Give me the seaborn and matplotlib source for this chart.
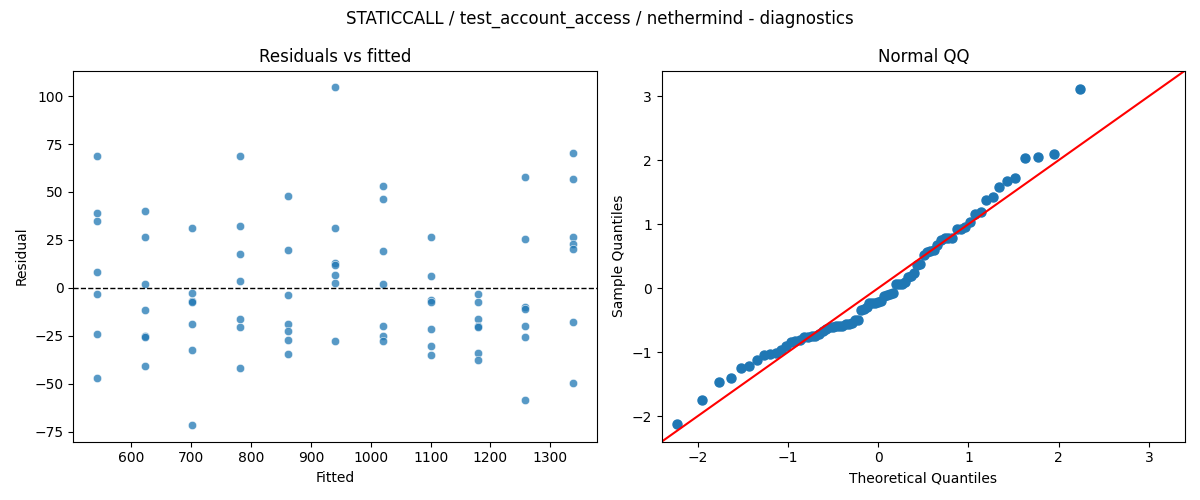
import matplotlib
matplotlib.use("Agg")
import matplotlib.pyplot as plt
import seaborn as sns
import numpy as np
from statistics import NormalDist

fitted_levels = [543, 623, 702, 782, 861, 941, 1020, 1100, 1180, 1258, 1338]
residual_groups = [
    [68.5, 39, 35, 8, -3, -24, -47],
    [40, 26.5, 2, -11.5, -25, -25.5, -41],
    [31, -2.5, -7, -7.5, -19, -32.5, -71.5],
    [69, 32, 17.5, 3.5, -16.5, -20.5, -42],
    [48, 19.5, -4, -19, -22.5, -27, -34.5],
    [104.5, 31, 13, 12, 6.5, 2.5, -27.5],
    [53, 46.5, 19, 2, -20, -25, -28],
    [26.5, 6, -6.5, -7.5, -21.5, -30.5, -35],
    [-3.5, -7.5, -16.5, -20, -20.5, -34, -37.5],
    [58, 25.5, -10, -11, -20, -25.5, -58.5],
    [70.5, 56.5, 26.5, 23, 20, -18, -49.5],
]

fitted = np.array([f for f, g in zip(fitted_levels, residual_groups) for _ in g])
resid = np.array([r for g in residual_groups for r in g])

# standardized residuals for the QQ plot
n = len(resid)
sample_q = np.sort((resid - resid.mean()) / resid.std(ddof=1))
theo_q = np.array([NormalDist().inv_cdf(i / (n + 1)) for i in range(1, n + 1)])

fig, axes = plt.subplots(1, 2, figsize=(12, 5))
fig.suptitle("STATICCALL / test_account_access / nethermind - diagnostics")

sns.scatterplot(x=fitted, y=resid, ax=axes[0], alpha=0.75)
axes[0].axhline(0, color="black", linestyle="--", linewidth=1)
axes[0].set_title("Residuals vs fitted")
axes[0].set_xlabel("Fitted")
axes[0].set_ylabel("Residual")

ax = axes[1]
ax.plot(theo_q, sample_q, "o", color="#1f77b4", markersize=6.5)
lims = [-2.4, 3.4]
ax.plot(lims, lims, color="red")
ax.set_xlim(lims)
ax.set_ylim(lims)
ax.set_title("Normal QQ")
ax.set_xlabel("Theoretical Quantiles")
ax.set_ylabel("Sample Quantiles")

plt.tight_layout()
plt.savefig("out.png", dpi=100)
